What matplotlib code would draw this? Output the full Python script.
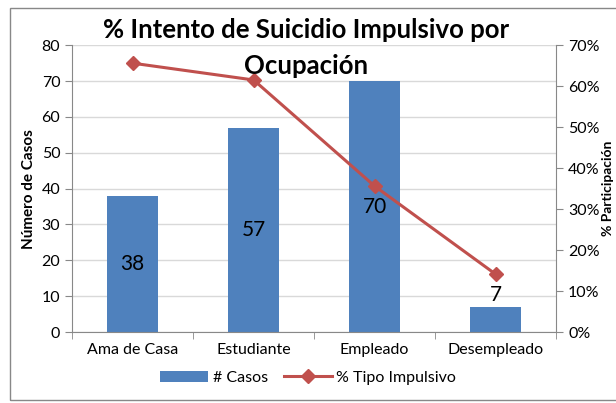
import matplotlib
matplotlib.use('Agg')
import matplotlib.pyplot as plt
from matplotlib.patches import Rectangle
from matplotlib.ticker import PercentFormatter

categorias = ['Ama de Casa', 'Estudiante', 'Empleado', 'Desempleado']
casos = [38, 57, 70, 7]
pct_impulsivo = [65.6, 61.5, 35.6, 14.1]

plt.rcParams['font.family'] = ['Lato', 'DejaVu Sans']

fig = plt.figure(figsize=(6.16, 4.03), dpi=100)
ax = fig.add_axes([0.117, 0.176, 0.786, 0.712])

# marco del gráfico
fig.patches.append(Rectangle((0.016, 0.008), 1.2, 0.972, transform=fig.transFigure,
                             fill=False, edgecolor='#888888', linewidth=1))

x = list(range(len(categorias)))
bars = ax.bar(x, casos, width=0.42, color='#4F81BD', zorder=2, label='# Casos')
ax.set_ylim(0, 80)
ax.set_xlim(-0.5, len(categorias) - 0.5)
ax.set_yticks(range(0, 81, 10))
ax.grid(axis='y', color='#D9D9D9', linewidth=1, zorder=0)
ax.set_xticks(x)
ax.set_xticklabels(categorias, fontsize=11.5)
ax.set_xticks([i + 0.5 for i in range(-1, len(categorias))], minor=True)
ax.tick_params(axis='x', which='major', length=0, pad=8)
ax.tick_params(axis='x', which='minor', length=5, color='#888888')
ax.tick_params(axis='y', labelsize=11.5, color='#888888', length=5)
for s in ['top', 'right']:
    ax.spines[s].set_visible(False)
for s in ['left', 'bottom']:
    ax.spines[s].set_color('#888888')
ax.set_ylabel('Número de Casos', fontsize=11, fontweight='bold', labelpad=4)

for i, v in enumerate(casos):
    if v < 15:
        ax.text(i, v + 0.5, str(v), ha='center', va='bottom', fontsize=15, zorder=5)
    else:
        ax.text(i, v / 2, str(v), ha='center', va='center', fontsize=15, zorder=5)

ax2 = ax.twinx()
line, = ax2.plot(x, pct_impulsivo, color='#C0504D', linewidth=2.2, marker='D',
                 markersize=7, label='% Tipo Impulsivo', zorder=4)
ax2.set_ylim(0, 70)
ax2.set_yticks(range(0, 71, 10))
ax2.yaxis.set_major_formatter(PercentFormatter(decimals=0))
ax2.tick_params(axis='y', labelsize=11.5, color='#888888', length=5)
for s in ['top', 'left', 'bottom']:
    ax2.spines[s].set_visible(False)
ax2.spines['right'].set_color('#888888')
ax2.set_ylabel('% Participación', fontsize=10, fontweight='bold', labelpad=2)

fig.text(0.497, 0.925, '% Intento de Suicidio Impulsivo por', ha='center', va='center',
         fontsize=18.5, fontweight='bold')
fig.text(0.497, 0.835, 'Ocupación', ha='center', va='center',
         fontsize=18.5, fontweight='bold')

fig.legend([bars, line], ['# Casos', '% Tipo Impulsivo'], loc='center',
           bbox_to_anchor=(0.5, 0.063), ncol=2, frameon=False, fontsize=11.5,
           handlelength=3, columnspacing=1.0, handletextpad=0.3)

fig.savefig('out.png', dpi=100)
